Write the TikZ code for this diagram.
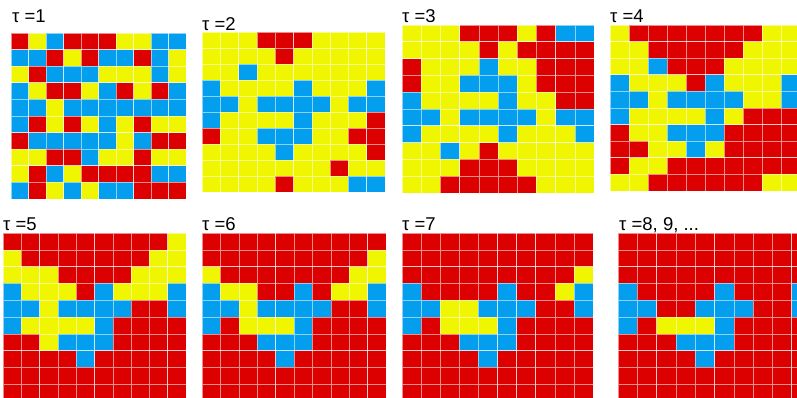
\documentclass[tikz,border=0pt]{standalone}
\usepackage{fontspec}
\setmainfont{Liberation Sans}
\usepackage{tikz}
\definecolor{StateR}{HTML}{DD0000}
\definecolor{StateY}{HTML}{F0F500}
\definecolor{StateB}{HTML}{049EEE}
\newcommand{\lattice}[5]{%
  \foreach \row [count=\j] in {#5} {
    \foreach \c [count=\i] in \row {
      \filldraw[cell, fill=State\c] ({#1+(\i-1)*#3},{#2+(\j-1)*#4}) rectangle ++(#3,#4);
    }
  }%
}
\begin{document}
\begin{tikzpicture}[x=1pt, y=-1pt,
  cell/.style={draw=white, draw opacity=0.55, line width=0.6pt},
  lab/.style={anchor=base west, inner sep=0pt, font=\fontsize{18.5}{21}\selectfont}]
  \useasboundingbox (0,0) rectangle (797,398);
  \clip (0,0) rectangle (797,398);
  \node[lab] (lab1) at (12,23) {τ =1};
  \node[lab] (lab2) at (202,31) {τ =2};
  \node[lab] (lab3) at (402,23) {τ =3};
  \node[lab] (lab4) at (610,23) {τ =4};
  \node[lab] (lab5) at (3,230) {τ =5};
  \node[lab] (lab6) at (202,230) {τ =6};
  \node[lab] (lab7) at (402,230) {τ =7};
  \node[lab] (lab8) at (619,230) {τ =8, 9, ...};
  \lattice{11}{33}{17.5}{16.6}{
    {R,Y,B,R,R,R,Y,Y,B,B},{B,B,R,Y,R,B,B,R,B,Y},{Y,R,B,B,B,Y,Y,Y,B,Y},
    {B,Y,R,R,Y,B,R,Y,R,B},{B,B,Y,B,B,B,B,B,B,B},{B,R,Y,R,Y,B,Y,R,Y,Y},
    {R,B,B,B,B,B,Y,B,R,R},{Y,Y,R,R,B,Y,Y,R,Y,Y},{Y,R,B,Y,R,R,R,R,B,B},
    {B,R,Y,B,Y,B,B,R,R,R}}
  \lattice{202}{32}{18.3}{16}{
    {Y,Y,Y,R,R,R,Y,Y,Y,Y},{Y,Y,Y,Y,R,Y,Y,Y,Y,Y},{Y,Y,B,Y,Y,Y,Y,Y,Y,Y},
    {B,Y,Y,Y,Y,B,Y,Y,Y,B},{B,B,Y,B,B,B,B,Y,B,B},{B,Y,Y,Y,Y,B,Y,Y,Y,R},
    {R,Y,Y,B,B,B,Y,Y,R,R},{Y,Y,Y,Y,B,Y,Y,Y,Y,R},{Y,Y,Y,Y,Y,Y,Y,R,Y,Y},
    {Y,Y,Y,Y,R,Y,Y,Y,B,B}}
  \lattice{402}{25}{19.2}{16.8}{
    {Y,Y,Y,R,R,R,Y,R,B,B},{Y,Y,Y,Y,R,Y,R,R,R,R},{R,Y,Y,Y,B,Y,Y,R,R,R},
    {R,Y,Y,B,B,B,Y,R,R,R},{B,Y,Y,Y,Y,B,Y,Y,R,R},{B,B,Y,B,B,B,B,Y,B,B},
    {B,Y,Y,Y,Y,B,Y,Y,Y,B},{Y,Y,B,Y,R,Y,Y,Y,Y,Y},{Y,Y,Y,R,R,R,Y,Y,Y,Y},
    {Y,Y,R,R,R,R,R,Y,Y,Y}}
  \lattice{610}{25}{19}{16.6}{
    {Y,R,R,R,R,R,R,R,Y,Y},{Y,Y,R,R,R,R,R,Y,Y,Y},{Y,Y,B,R,R,R,Y,Y,Y,Y},
    {B,Y,Y,Y,R,B,Y,Y,Y,B},{B,B,Y,B,B,B,B,Y,Y,B},{B,Y,Y,Y,Y,B,Y,R,R,R},
    {R,Y,Y,B,B,B,R,R,R,R},{R,R,Y,Y,B,Y,R,R,R,R},{R,Y,Y,R,R,R,R,R,R,R},
    {Y,Y,R,R,R,R,R,R,Y,Y}}
  \lattice{3}{233}{18.3}{16.8}{
    {R,R,R,R,R,R,R,R,R,Y},{Y,R,R,R,R,R,R,R,Y,Y},{Y,Y,Y,R,R,R,R,Y,Y,Y},
    {B,Y,Y,Y,R,B,Y,Y,Y,B},{B,B,Y,B,B,B,B,R,R,B},{B,Y,Y,Y,Y,B,R,R,R,R},
    {R,R,Y,B,B,B,R,R,R,R},{R,R,R,R,B,R,R,R,R,R},{R,R,R,R,R,R,R,R,R,R},
    {R,R,R,R,R,R,R,R,R,R}}
  \lattice{202}{233}{18.4}{16.8}{
    {R,R,R,R,R,R,R,R,R,R},{R,R,R,R,R,R,R,R,R,Y},{Y,R,R,R,R,R,R,R,Y,Y},
    {B,Y,Y,R,R,B,R,Y,Y,B},{B,B,Y,B,B,B,B,R,R,B},{B,R,Y,Y,Y,B,R,R,R,R},
    {R,R,R,B,B,B,R,R,R,R},{R,R,R,R,B,R,R,R,R,R},{R,R,R,R,R,R,R,R,R,R},
    {R,R,R,R,R,R,R,R,R,R}}
  \lattice{402}{233}{19.1}{16.8}{
    {R,R,R,R,R,R,R,R,R,R},{R,R,R,R,R,R,R,R,R,R},{R,R,R,R,R,R,R,R,R,Y},
    {B,R,R,R,R,B,R,R,Y,B},{B,B,Y,Y,B,B,B,R,R,B},{B,R,Y,Y,Y,B,R,R,R,R},
    {R,R,R,B,B,B,R,R,R,R},{R,R,R,R,B,R,R,R,R,R},{R,R,R,R,R,R,R,R,R,R},
    {R,R,R,R,R,R,R,R,R,R}}
  \lattice{618}{233}{19.3}{16.8}{
    {R,R,R,R,R,R,R,R,R,R},{R,R,R,R,R,R,R,R,R,R},{R,R,R,R,R,R,R,R,R,R},
    {B,R,R,R,R,B,R,R,R,B},{B,B,R,R,B,B,B,R,R,B},{B,R,Y,Y,Y,B,R,R,R,R},
    {R,R,R,B,B,B,R,R,R,R},{R,R,R,R,B,R,R,R,R,R},{R,R,R,R,R,R,R,R,R,R},
    {R,R,R,R,R,R,R,R,R,R}}
\end{tikzpicture}
\end{document}
